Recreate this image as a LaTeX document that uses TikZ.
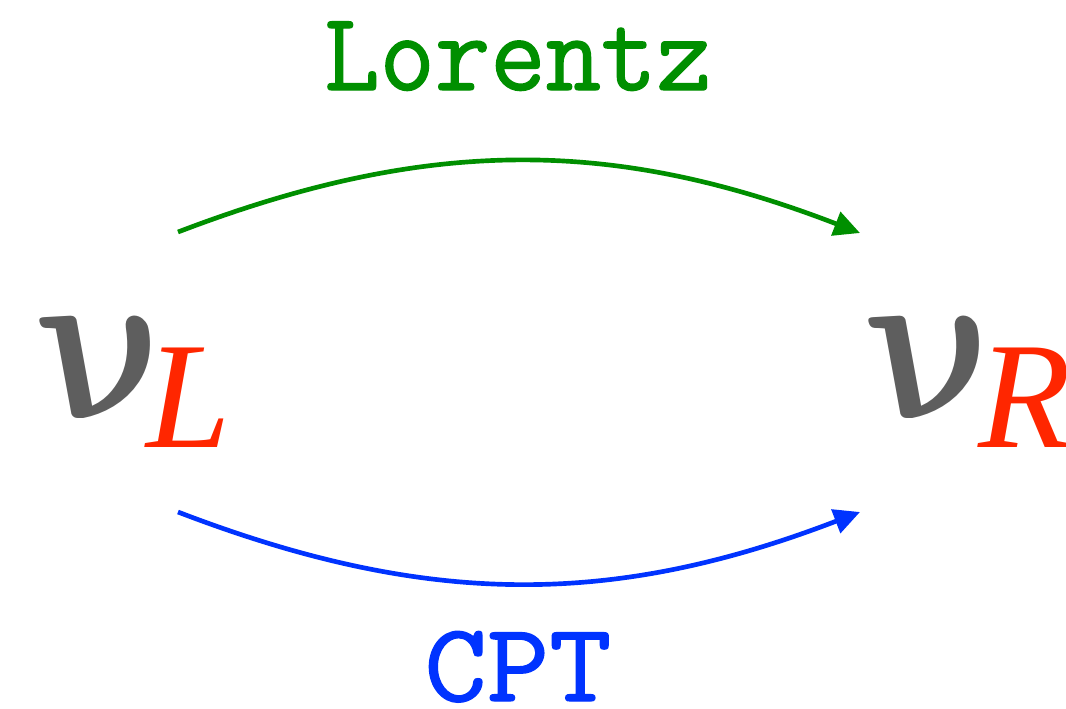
\documentclass[tikz,border=0pt]{standalone}
\usepackage{bm}
\usepackage{fontspec}
\usetikzlibrary{arrows.meta}
\newfontfamily\subfont{Liberation Serif}
\newfontfamily\labfont{Latin Modern Mono}[FakeBold=1.2]
\definecolor{nugrey}{RGB}{94,94,94}
\definecolor{subred}{RGB}{255,38,0}
\definecolor{lgreen}{RGB}{0,143,0}
\definecolor{cblue}{RGB}{0,51,255}
\newcommand{\bignu}{\scalebox{15}[17]{$\bm{\nu}$}}
\begin{document}
\begin{tikzpicture}[x=0.75pt,y=-0.75pt,
  nu/.style={anchor=base west,inner sep=0pt,text=nugrey,xslant=-0.4},
  sub/.style={anchor=base west,inner sep=0pt,text=subred,font=\subfont\itshape\fontsize{114}{114}\selectfont},
  lab/.style={inner sep=0pt,font=\labfont\fontsize{84}{84}\selectfont},
  conn/.style={line width=3.5pt,-{Triangle[length=19.5pt,width=18.5pt]}}]
\useasboundingbox (0,0) rectangle (1066,708);
\node[nu] (nuL) at (64,418) {\bignu};
\node[sub] (subL) at (146,447) {L};
\node[nu] (nuR) at (893,418) {\bignu};
\node[sub] (subR) at (978,447) {R};
\node[lab,text=lgreen,anchor=base,xscale=0.96] (lor) at (518,90) {Lorentz};
\node[lab,text=cblue,anchor=base,xscale=1.08] (cpt) at (518,701) {CPT};
\draw[conn,lgreen] ([shift={(114,-186)}]nuL.base west) to[bend left=21] ([shift={(-33,-185)}]nuR.base west);
\draw[conn,cblue] ([shift={(114,94)}]nuL.base west) to[bend right=21] ([shift={(-33,94)}]nuR.base west);
\end{tikzpicture}
\end{document}
